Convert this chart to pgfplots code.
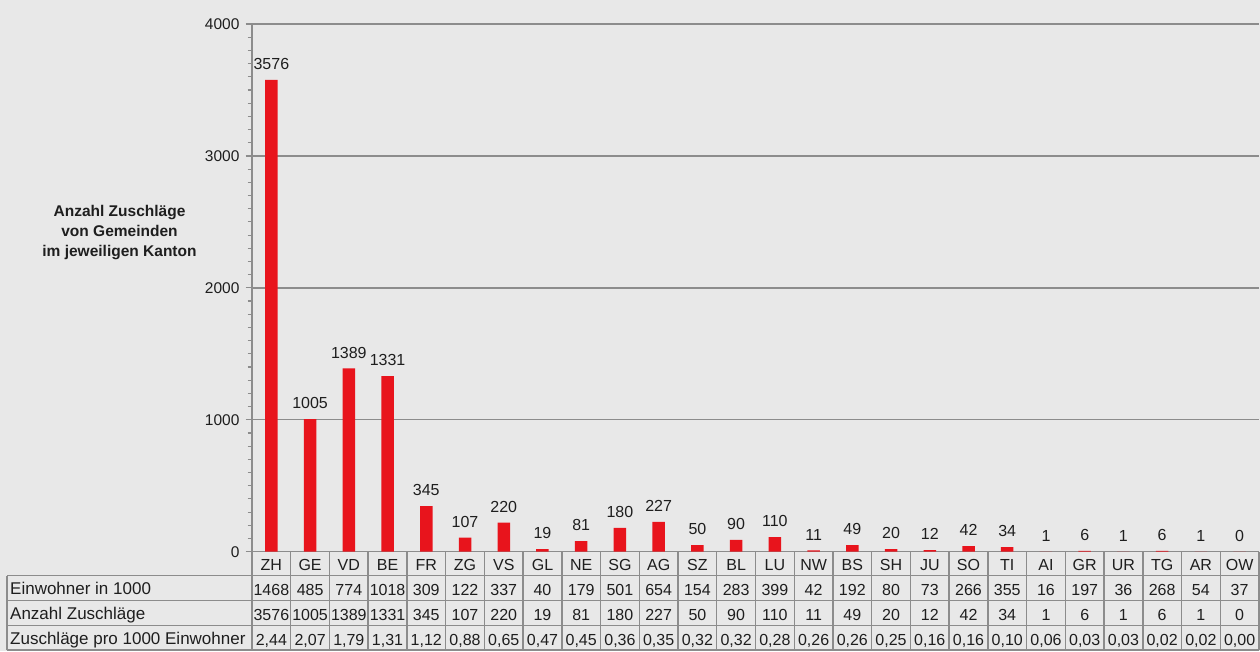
\documentclass[border=0pt]{standalone}
\usepackage{fontspec}
\setmainfont{Liberation Sans}
\usepackage{pgfplots}
\pgfplotsset{compat=1.18}
\definecolor{bg}{HTML}{E8E8E8}
\definecolor{barred}{HTML}{E8141C}
\definecolor{gridgray}{HTML}{8C8C8C}
\definecolor{txt}{HTML}{1E1E1E}

\begin{document}
\begin{tikzpicture}
\useasboundingbox (0,0) rectangle (1260pt,651pt);
\fill[bg] (0,0) rectangle (1260pt,651pt);
\begin{axis}[
    at={(252pt,99.3pt)}, anchor=south west,
    scale only axis, width=1007pt, height=527.7pt,
    xmin=0.5, xmax=26.5, ymin=0, ymax=4000,
    clip=false,
    ybar, bar width=12.5pt,
    axis x line=bottom, axis y line=left,
    axis line style={-, gridgray, line width=1.4pt},
    ytick={0,1000,2000,3000,4000},
    ymajorgrids,
    major grid style={gridgray, line width=1.4pt},
    tick align=outside,
    major tick length=6pt,
    every tick/.style={draw=gridgray, line width=1.2pt},
    major x tick style={draw=none},
    /pgf/number format/1000 sep={},
    /pgf/number format/assume math mode=true,
    yticklabel style={font=\fontsize{15.5}{18}\selectfont, text=txt, xshift=-3pt},
    xtick={1,...,26},
    xticklabel style={font=\fontsize{16}{25}\selectfont, text=txt, align=center,
        anchor=north, inner sep=0pt, yshift=-1.2pt},
    xticklabels={
        {ZH\\1468\\3576\\2,44}, {GE\\485\\1005\\2,07}, {VD\\774\\1389\\1,79},
        {BE\\1018\\1331\\1,31}, {FR\\309\\345\\1,12}, {ZG\\122\\107\\0,88},
        {VS\\337\\220\\0,65}, {GL\\40\\19\\0,47}, {NE\\179\\81\\0,45},
        {SG\\501\\180\\0,36}, {AG\\654\\227\\0,35}, {SZ\\154\\50\\0,32},
        {BL\\283\\90\\0,32}, {LU\\399\\110\\0,28}, {NW\\42\\11\\0,26},
        {BS\\192\\49\\0,26}, {SH\\80\\20\\0,25}, {JU\\73\\12\\0,16},
        {SO\\266\\42\\0,16}, {TI\\355\\34\\0,10}, {AI\\16\\1\\0,06},
        {GR\\197\\6\\0,03}, {UR\\36\\1\\0,03}, {TG\\268\\6\\0,02},
        {AR\\54\\1\\0,02}, {OW\\37\\0\\0,00}},
    nodes near coords,
    every node near coord/.append style={anchor=south, inner sep=0pt, yshift=10pt,
        font=\fontsize{16}{18}\selectfont, text=txt},
  ]
  \addplot[fill=barred, draw=none] coordinates {
    (1,3576) (2,1005) (3,1389) (4,1331) (5,345) (6,107) (7,220) (8,19)
    (9,81) (10,180) (11,227) (12,50) (13,90) (14,110) (15,11) (16,49)
    (17,20) (18,12) (19,42) (20,34) (21,1) (22,6) (23,1) (24,6) (25,1) (26,0)
  };
\end{axis}

% y axis tick marks (every 100, longer every 1000)
\begin{scope}[gridgray, line width=1.1pt]
  \foreach \i in {0,...,40} \draw (247.5pt,{99.3pt+\i*13.1925pt}) -- (252pt,{99.3pt+\i*13.1925pt});
  \foreach \i in {0,...,4} \draw (245.5pt,{99.3pt+\i*131.925pt}) -- (252pt,{99.3pt+\i*131.925pt});
\end{scope}

% table rules
\begin{scope}[gridgray, line width=1.4pt]
  \foreach \y in {75.3,50.5,25.5,1} \draw (7pt,\y pt) -- (1259pt,\y pt);
  \draw (7pt,75.3pt) -- (7pt,1pt);
  \foreach \k in {0,...,26} \draw ({252pt+\k*38.73pt},99.3pt) -- ({252pt+\k*38.73pt},1pt);
\end{scope}

\begin{scope}[font=\fontsize{17}{20}\selectfont, text=txt, inner sep=0pt]
  \node[anchor=base west] at (10pt,56.8pt) {Einwohner in 1000};
  \node[anchor=base west] at (10pt,31.8pt) {Anzahl Zuschläge};
  \node[anchor=base west] at (10pt,6.8pt) {Zuschläge pro 1000 Einwohner};
\end{scope}

\node[align=center, font=\bfseries\fontsize{15.5}{20}\selectfont, text=txt]
  at (119.5pt,418pt) {Anzahl Zuschläge\\von Gemeinden\\im jeweiligen Kanton};
\end{tikzpicture}
\end{document}
